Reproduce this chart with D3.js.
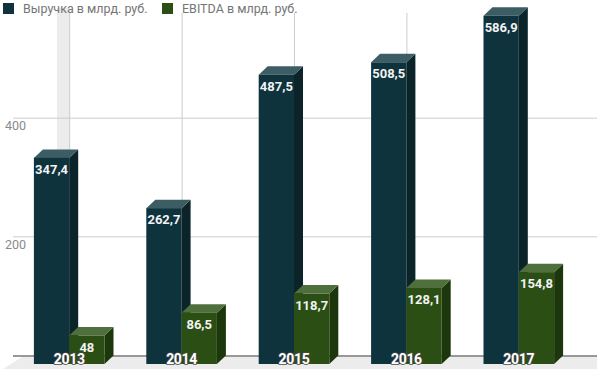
<!DOCTYPE html>
<meta charset="utf-8">
<head>
<title>Выручка и EBITDA</title>
<script src="https://d3js.org/d3.v7.min.js"></script>
<style>
  body { margin: 0; background: #fff; }
  text { font-family: Roboto, "Open Sans", sans-serif; }
  .legend text { font-size: 12.5px; fill: #757575; }
  .ytick { font-size: 12.5px; fill: #8a8a8a; }
  .val { font-size: 13px; font-weight: bold; fill: #f2f2f2; }
  .year { font-size: 14px; font-weight: bold; fill: #fff; stroke: #4a4a4a; stroke-width: 1.5px; paint-order: stroke; letter-spacing: -0.3px; }
</style>
</head>
<body>
<script type="text/javascript">

// data
var years = ["2013", "2014", "2015", "2016", "2017"];
var revenue = [347.4, 262.7, 487.5, 508.5, 586.9];
var ebitda = [48, 86.5, 118.7, 128.1, 154.8];
var seriesNames = ["Выручка в млрд. руб.", "EBITDA в млрд. руб."];
var yTicks = [200, 400];

var width = 597, height = 369;
var dx = 9, dy = 8.5;   // 3d depth offset (front -> back: +dx, -dy)

var colors = [
  {front: "#0e333d", top: "#3b5d63", side: "#0a2429"},
  {front: "#2b4e15", top: "#4f6f3c", side: "#1c370c"}
];

var svg = d3.select("body").append("svg")
    .attr("width", width)
    .attr("height", height);

// scales (front plane)
var x0 = d3.scaleBand().domain(years).range([13, 575]);
var x1 = d3.scaleBand().domain([0, 1]).range([0, x0.bandwidth()]).paddingOuter(0.592);
var y = d3.scaleLinear().domain([0, 600]).range([364, 8]);

// grey band behind first group
svg.append("rect")
    .attr("x", 57).attr("y", 8)
    .attr("width", 13).attr("height", 347)
    .attr("fill", "#ececec");

// floor
svg.append("polygon")
    .attr("points", [[13 + dx, 357], [width, 357], [width, height], [13 - 10, height]].join(" "))
    .attr("fill", "#ececec");

// horizontal grid (back wall)
svg.selectAll(".grid")
    .data(yTicks)
  .enter().append("line")
    .attr("x1", 13).attr("x2", width)
    .attr("y1", function(d) { return y(d) - dy; })
    .attr("y2", function(d) { return y(d) - dy; })
    .attr("stroke", "#cccccc");

// vertical category lines
svg.selectAll(".vline")
    .data(years)
  .enter().append("line")
    .attr("x1", function(d) { return x0(d) + x0.bandwidth() / 2 + 0.5; })
    .attr("x2", function(d) { return x0(d) + x0.bandwidth() / 2 + 0.5; })
    .attr("y1", 13).attr("y2", y(0) - dy)
    .attr("stroke", "#cccccc");

// baseline
svg.append("line")
    .attr("x1", 13).attr("x2", width)
    .attr("y1", y(0) - dy + 0.5).attr("y2", y(0) - dy + 0.5)
    .attr("stroke", "#333").attr("stroke-width", 1.2);

// y tick labels
svg.selectAll(".ytick")
    .data(yTicks)
  .enter().append("text")
    .attr("class", "ytick")
    .attr("x", 5)
    .attr("y", function(d) { return y(d) - dy + 12; })
    .text(function(d) { return d; });

// bars
var rows = [];
years.forEach(function(yr, i) {
  rows.push({year: yr, s: 0, v: revenue[i]});
  rows.push({year: yr, s: 1, v: ebitda[i]});
});

var bw = x1.bandwidth();
var bars = svg.selectAll(".bar")
    .data(rows)
  .enter().append("g")
    .attr("class", "bar");

bars.each(function(d) {
  var g = d3.select(this);
  var xl = x0(d.year) + x1(d.s), xr = xl + bw;
  var yt = y(d.v), yb = y(0);
  var c = colors[d.s];
  // side face
  g.append("polygon")
      .attr("points", [[xr, yt], [xr + dx, yt - dy], [xr + dx, yb - dy], [xr, yb]].join(" "))
      .attr("fill", c.side);
  // top face
  g.append("polygon")
      .attr("points", [[xl, yt], [xl + dx, yt - dy], [xr + dx, yt - dy], [xr, yt]].join(" "))
      .attr("fill", c.top);
  // front face
  g.append("rect")
      .attr("x", xl).attr("y", yt)
      .attr("width", bw).attr("height", yb - yt)
      .attr("fill", c.front);
  // value label
  g.append("text")
      .attr("class", "val")
      .attr("x", xl + bw / 2)
      .attr("y", yt + 16)
      .attr("text-anchor", "middle")
      .text(String(d.v).replace(".", ","));
});

// year labels
svg.selectAll(".year")
    .data(years)
  .enter().append("text")
    .attr("class", "year")
    .attr("x", function(d) { return x0(d) + x0.bandwidth() / 2; })
    .attr("y", 364)
    .attr("text-anchor", "middle")
    .text(function(d) { return d; });

// legend
var legend = svg.append("g").attr("class", "legend");
var legX = [3, 162];
seriesNames.forEach(function(name, i) {
  legend.append("rect")
      .attr("x", legX[i]).attr("y", 3)
      .attr("width", 11).attr("height", 11)
      .attr("fill", colors[i].front);
  legend.append("text")
      .attr("x", legX[i] + 20).attr("y", 13)
      .text(name);
});

</script>
</body>
